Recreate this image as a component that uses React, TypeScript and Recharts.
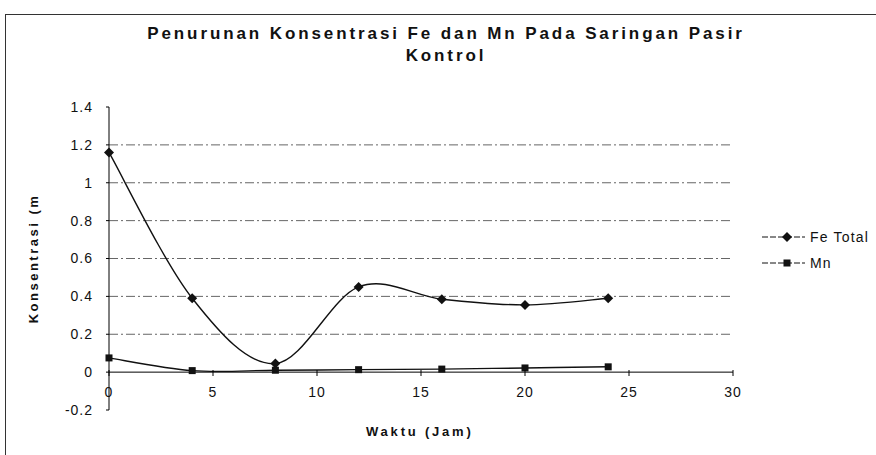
import React from "react";
import {
  LineChart,
  Line,
  XAxis,
  YAxis,
  ReferenceLine,
  Label,
} from "recharts";

const jam = [0, 4, 8, 12, 16, 20, 24];
const feTotal = [1.16, 0.39, 0.045, 0.45, 0.385, 0.355, 0.39];
const mn = [0.075, 0.008, 0.01, 0.013, 0.016, 0.022, 0.028];

const xTicks = [0, 5, 10, 15, 20, 25, 30];
const yTicks = [-0.2, 0, 0.2, 0.4, 0.6, 0.8, 1, 1.2, 1.4];
const gridValues = [0.2, 0.4, 0.6, 0.8, 1, 1.2];

const data = jam.map((j, i) => ({ jam: j, fe: feTotal[i], mn: mn[i] }));

const font = "'Liberation Sans', Arial, sans-serif";

// Excel style smoothed line (Catmull-Rom through the points)
const excelSmooth = (context: any) => {
  let pts: number[][] = [];
  return {
    areaStart() {},
    areaEnd() {},
    lineStart() {
      pts = [];
    },
    point(x: number, y: number) {
      pts.push([+x, +y]);
    },
    lineEnd() {
      if (!pts.length) return;
      context.moveTo(pts[0][0], pts[0][1]);
      for (let i = 0; i < pts.length - 1; i++) {
        const p0 = pts[i - 1] || pts[i];
        const p1 = pts[i];
        const p2 = pts[i + 1];
        const p3 = pts[i + 2] || p2;
        context.bezierCurveTo(
          p1[0] + (p2[0] - p0[0]) / 6,
          p1[1] + (p2[1] - p0[1]) / 6,
          p2[0] - (p3[0] - p1[0]) / 6,
          p2[1] - (p3[1] - p1[1]) / 6,
          p2[0],
          p2[1]
        );
      }
    },
  };
};

const Diamond = (props: any) => {
  const { cx, cy } = props;
  if (cx == null || cy == null) return null;
  const r = 5;
  return (
    <path
      d={`M${cx},${cy - r}L${cx + r},${cy}L${cx},${cy + r}L${cx - r},${cy}Z`}
      fill="#111"
    />
  );
};

const Square = (props: any) => {
  const { cx, cy } = props;
  if (cx == null || cy == null) return null;
  return <rect x={cx - 3.5} y={cy - 3.5} width={7} height={7} fill="#111" />;
};

const XTick = (props: any) => {
  const { x, y, payload } = props;
  // axis crosses at 0, labels sit just below that line
  const y0 = y - 37;
  return (
    <g>
      <line x1={x} x2={x} y1={y0 - 3} y2={y0 + 3} stroke="#000" />
      <text
        x={x}
        y={y0 + 24}
        textAnchor="middle"
        fontSize={14}
        fontFamily={font}
        letterSpacing={1}
        fill="#111"
      >
        {payload.value}
      </text>
    </g>
  );
};

const App = () => {
  return (
    <div
      style={{
        position: "absolute",
        left: 0,
        top: 0,
        width: 876,
        height: 455,
        background: "#fff",
        overflow: "hidden",
        fontFamily: font,
      }}
    >
      <div
        style={{
          position: "absolute",
          left: 5,
          top: 14,
          width: 900,
          height: 460,
          borderLeft: "1.5px solid #333",
          borderTop: "1.5px solid #333",
        }}
      />
      <div
        style={{
          position: "absolute",
          left: 0,
          top: 23,
          width: 892,
          textAlign: "center",
          fontWeight: "bold",
          fontSize: 17,
          lineHeight: "22px",
          letterSpacing: 2.9,
          color: "#111",
        }}
      >
        Penurunan Konsentrasi Fe dan Mn Pada Saringan Pasir
        <br />
        Kontrol
      </div>
      <LineChart
        width={876}
        height={455}
        data={data}
        margin={{ top: 107, right: 143, bottom: 15, left: 0 }}
        style={{ position: "absolute", left: 0, top: 0 }}
      >
        <XAxis
          dataKey="jam"
          type="number"
          domain={[0, 30]}
          ticks={xTicks}
          axisLine={false}
          tickLine={false}
          tickSize={0}
          tickMargin={0}
          height={30}
          tick={<XTick />}
          interval={0}
        />
        <YAxis
          type="number"
          domain={[-0.2, 1.4]}
          ticks={yTicks}
          width={109}
          allowDataOverflow
          interval={0}
          axisLine={{ stroke: "#000" }}
          tickLine={{ stroke: "#000" }}
          tickSize={3}
          tickMargin={13}
          tick={{ fontSize: 14, fill: "#111", fontFamily: font, letterSpacing: 1 }}
        >
          <Label
            value="Konsentrasi (m"
            angle={-90}
            position="insideLeft"
            offset={33}
            style={{
              fontSize: 13,
              fontWeight: "bold",
              fill: "#111",
              fontFamily: font,
              letterSpacing: 2.5,
              textAnchor: "middle",
            }}
          />
        </YAxis>
        {gridValues.map((v) => (
          <ReferenceLine
            key={v}
            y={v}
            stroke="#666"
            strokeDasharray="9 3 2 3"
            ifOverflow="visible"
          />
        ))}
        <ReferenceLine y={0} stroke="#000" />
        <Line
          dataKey="fe"
          name="Fe Total"
          type={excelSmooth as any}
          stroke="#111"
          strokeWidth={1.4}
          dot={<Diamond />}
          activeDot={false}
          isAnimationActive={false}
        />
        <Line
          dataKey="mn"
          name="Mn"
          type={excelSmooth as any}
          stroke="#111"
          strokeWidth={1.4}
          dot={<Square />}
          activeDot={false}
          isAnimationActive={false}
        />
      </LineChart>
      <div
        style={{
          position: "absolute",
          left: 366,
          top: 424,
          fontSize: 13,
          fontWeight: "bold",
          letterSpacing: 2.8,
          color: "#111",
        }}
      >
        Waktu (Jam)
      </div>
      <svg
        width={120}
        height={60}
        style={{ position: "absolute", left: 758, top: 222 }}
      >
        <line x1={4} x2={47} y1={15} y2={15} stroke="#111" strokeDasharray="6 2" />
        <path d="M29,10L34,15L29,20L24,15Z" fill="#111" />
        <text x={52} y={20} fontSize={14} fontFamily={font} letterSpacing={1.2} fill="#111">
          Fe Total
        </text>
        <line x1={4} x2={47} y1={41} y2={41} stroke="#111" strokeDasharray="6 2" />
        <rect x={25.5} y={37.5} width={7} height={7} fill="#111" />
        <text x={52} y={46} fontSize={14} fontFamily={font} letterSpacing={1.2} fill="#111">
          Mn
        </text>
      </svg>
    </div>
  );
};

export default App;
